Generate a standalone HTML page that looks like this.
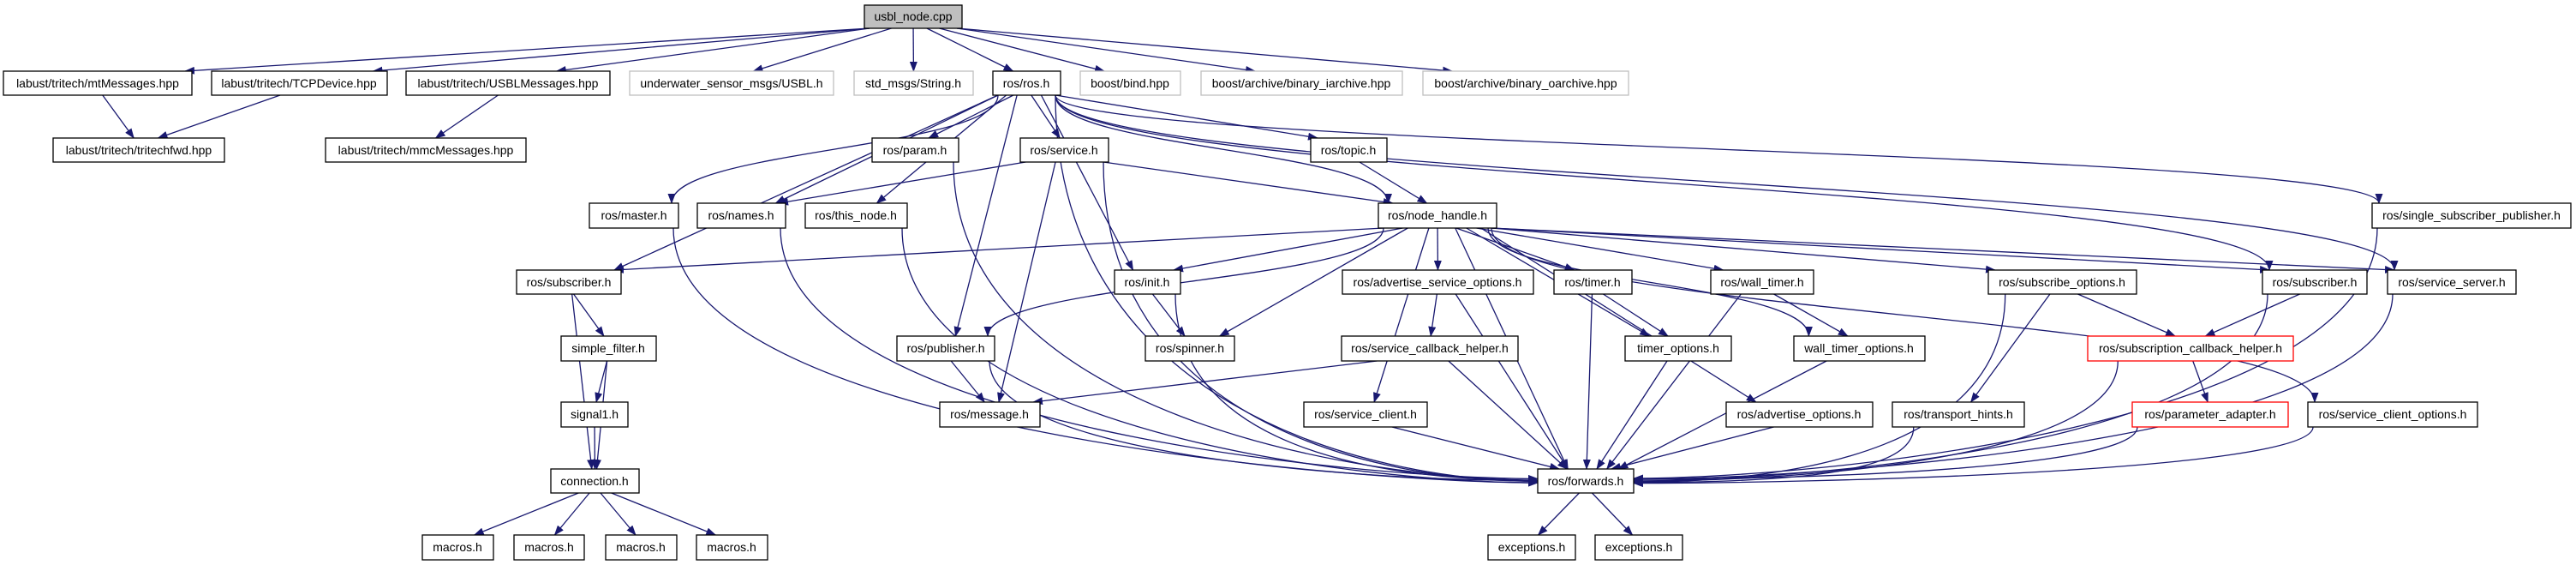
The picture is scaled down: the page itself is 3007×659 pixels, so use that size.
<!DOCTYPE html>
<html><head><meta charset="utf-8"><style>
html,body{margin:0;padding:0;background:#fff;}
svg{display:block;}
text{font-family:"Liberation Sans",sans-serif;font-size:14px;fill:#000;}
</style></head><body>
<svg id="g" width="3007" height="659" viewBox="0 0 3007 659" xmlns="http://www.w3.org/2000/svg">
<defs><marker id="ar" markerUnits="userSpaceOnUse" markerWidth="12" markerHeight="9" refX="11" refY="4.5" orient="auto"><path d="M0,0 L12,4.5 L0,9 z" fill="#191970"/></marker></defs>
<g id="edges" fill="none" stroke="#191970" stroke-width="1.3"></g>
<g id="nodes" stroke-width="1.3">
<rect x="1009" y="6" width="114" height="27" fill="#bfbfbf" stroke="#000"/><text x="1066" y="24" text-anchor="middle">usbl_node.cpp</text>
<rect x="4" y="83" width="220" height="28" fill="#fff" stroke="#000"/><text x="114" y="102" text-anchor="middle">labust/tritech/mtMessages.hpp</text>
<rect x="247" y="83" width="205" height="28" fill="#fff" stroke="#000"/><text x="349" y="102" text-anchor="middle">labust/tritech/TCPDevice.hpp</text>
<rect x="474" y="83" width="238" height="28" fill="#fff" stroke="#000"/><text x="593" y="102" text-anchor="middle">labust/tritech/USBLMessages.hpp</text>
<rect x="735" y="83" width="238" height="28" fill="#fff" stroke="#bfbfbf"/><text x="854" y="102" text-anchor="middle">underwater_sensor_msgs/USBL.h</text>
<rect x="997" y="83" width="139" height="28" fill="#fff" stroke="#bfbfbf"/><text x="1066" y="102" text-anchor="middle">std_msgs/String.h</text>
<rect x="1159" y="83" width="79" height="28" fill="#fff" stroke="#000"/><text x="1198" y="102" text-anchor="middle">ros/ros.h</text>
<rect x="1261" y="83" width="117" height="28" fill="#fff" stroke="#bfbfbf"/><text x="1319" y="102" text-anchor="middle">boost/bind.hpp</text>
<rect x="1402" y="83" width="235" height="28" fill="#fff" stroke="#bfbfbf"/><text x="1519" y="102" text-anchor="middle">boost/archive/binary_iarchive.hpp</text>
<rect x="1661" y="83" width="240" height="28" fill="#fff" stroke="#bfbfbf"/><text x="1781" y="102" text-anchor="middle">boost/archive/binary_oarchive.hpp</text>
<rect x="62" y="161" width="200" height="28" fill="#fff" stroke="#000"/><text x="162" y="180" text-anchor="middle">labust/tritech/tritechfwd.hpp</text>
<rect x="380" y="161" width="234" height="28" fill="#fff" stroke="#000"/><text x="497" y="180" text-anchor="middle">labust/tritech/mmcMessages.hpp</text>
<rect x="1018" y="161" width="101" height="28" fill="#fff" stroke="#000"/><text x="1068" y="180" text-anchor="middle">ros/param.h</text>
<rect x="1191" y="161" width="103" height="28" fill="#fff" stroke="#000"/><text x="1242" y="180" text-anchor="middle">ros/service.h</text>
<rect x="1530" y="161" width="89" height="28" fill="#fff" stroke="#000"/><text x="1574" y="180" text-anchor="middle">ros/topic.h</text>
<rect x="688" y="237" width="104" height="29" fill="#fff" stroke="#000"/><text x="740" y="256" text-anchor="middle">ros/master.h</text>
<rect x="814" y="237" width="103" height="29" fill="#fff" stroke="#000"/><text x="865" y="256" text-anchor="middle">ros/names.h</text>
<rect x="940" y="237" width="119" height="29" fill="#fff" stroke="#000"/><text x="999" y="256" text-anchor="middle">ros/this_node.h</text>
<rect x="1609" y="237" width="138" height="29" fill="#fff" stroke="#000"/><text x="1678" y="256" text-anchor="middle">ros/node_handle.h</text>
<rect x="2769" y="237" width="232" height="29" fill="#fff" stroke="#000"/><text x="2885" y="256" text-anchor="middle">ros/single_subscriber_publisher.h</text>
<rect x="603" y="315" width="122" height="28" fill="#fff" stroke="#000"/><text x="664" y="334" text-anchor="middle">ros/subscriber.h</text>
<rect x="1301" y="315" width="77" height="28" fill="#fff" stroke="#000"/><text x="1339" y="334" text-anchor="middle">ros/init.h</text>
<rect x="1567" y="315" width="223" height="28" fill="#fff" stroke="#000"/><text x="1678" y="334" text-anchor="middle">ros/advertise_service_options.h</text>
<rect x="1814" y="315" width="91" height="28" fill="#fff" stroke="#000"/><text x="1859" y="334" text-anchor="middle">ros/timer.h</text>
<rect x="1997" y="315" width="120" height="28" fill="#fff" stroke="#000"/><text x="2057" y="334" text-anchor="middle">ros/wall_timer.h</text>
<rect x="2321" y="315" width="173" height="28" fill="#fff" stroke="#000"/><text x="2407" y="334" text-anchor="middle">ros/subscribe_options.h</text>
<rect x="2641" y="315" width="122" height="28" fill="#fff" stroke="#000"/><text x="2702" y="334" text-anchor="middle">ros/subscriber.h</text>
<rect x="2787" y="315" width="150" height="28" fill="#fff" stroke="#000"/><text x="2862" y="334" text-anchor="middle">ros/service_server.h</text>
<rect x="655" y="392" width="111" height="29" fill="#fff" stroke="#000"/><text x="710" y="411" text-anchor="middle">simple_filter.h</text>
<rect x="1047" y="392" width="114" height="29" fill="#fff" stroke="#000"/><text x="1104" y="411" text-anchor="middle">ros/publisher.h</text>
<rect x="1337" y="392" width="104" height="29" fill="#fff" stroke="#000"/><text x="1389" y="411" text-anchor="middle">ros/spinner.h</text>
<rect x="1566" y="392" width="206" height="29" fill="#fff" stroke="#000"/><text x="1669" y="411" text-anchor="middle">ros/service_callback_helper.h</text>
<rect x="1897" y="392" width="124" height="29" fill="#fff" stroke="#000"/><text x="1959" y="411" text-anchor="middle">timer_options.h</text>
<rect x="2094" y="392" width="153" height="29" fill="#fff" stroke="#000"/><text x="2170" y="411" text-anchor="middle">wall_timer_options.h</text>
<rect x="2437" y="392" width="240" height="29" fill="#fff" stroke="#f00"/><text x="2557" y="411" text-anchor="middle">ros/subscription_callback_helper.h</text>
<rect x="655" y="469" width="78" height="29" fill="#fff" stroke="#000"/><text x="694" y="488" text-anchor="middle">signal1.h</text>
<rect x="1097" y="469" width="117" height="29" fill="#fff" stroke="#000"/><text x="1155" y="488" text-anchor="middle">ros/message.h</text>
<rect x="1522" y="469" width="144" height="29" fill="#fff" stroke="#000"/><text x="1594" y="488" text-anchor="middle">ros/service_client.h</text>
<rect x="2015" y="469" width="171" height="29" fill="#fff" stroke="#000"/><text x="2100" y="488" text-anchor="middle">ros/advertise_options.h</text>
<rect x="2209" y="469" width="154" height="29" fill="#fff" stroke="#000"/><text x="2286" y="488" text-anchor="middle">ros/transport_hints.h</text>
<rect x="2489" y="469" width="182" height="29" fill="#fff" stroke="#f00"/><text x="2580" y="488" text-anchor="middle">ros/parameter_adapter.h</text>
<rect x="2694" y="469" width="198" height="29" fill="#fff" stroke="#000"/><text x="2793" y="488" text-anchor="middle">ros/service_client_options.h</text>
<rect x="643" y="547" width="103" height="28" fill="#fff" stroke="#000"/><text x="694" y="566" text-anchor="middle">connection.h</text>
<rect x="1795" y="547" width="112" height="28" fill="#fff" stroke="#000"/><text x="1851" y="566" text-anchor="middle">ros/forwards.h</text>
<rect x="493" y="624" width="83" height="29" fill="#fff" stroke="#000"/><text x="534" y="643" text-anchor="middle">macros.h</text>
<rect x="600" y="624" width="82" height="29" fill="#fff" stroke="#000"/><text x="641" y="643" text-anchor="middle">macros.h</text>
<rect x="707" y="624" width="83" height="29" fill="#fff" stroke="#000"/><text x="748" y="643" text-anchor="middle">macros.h</text>
<rect x="813" y="624" width="83" height="29" fill="#fff" stroke="#000"/><text x="854" y="643" text-anchor="middle">macros.h</text>
<rect x="1737" y="624" width="102" height="29" fill="#fff" stroke="#000"/><text x="1788" y="643" text-anchor="middle">exceptions.h</text>
<rect x="1862" y="624" width="102" height="29" fill="#fff" stroke="#000"/><text x="1913" y="643" text-anchor="middle">exceptions.h</text>
</g>
</svg>
<script>
var R=[6,83,161,237,315,392,469,547,624],H=[27,28,28,29,28,29,29,28,29];
var N={usbl:[1009,1123,0],mt:[4,224,1],tcp:[247,452,1],usblm:[474,712,1],uw:[735,973,1],str:[997,1136,1],ros:[1159,1238,1],bind:[1261,1378,1],ia:[1402,1637,1],oa:[1661,1901,1],
tfwd:[62,262,2],mmc:[380,614,2],param:[1018,1119,2],service:[1191,1294,2],topic:[1530,1619,2],
master:[688,792,3],names:[814,917,3],thisn:[940,1059,3],nh:[1609,1747,3],ssp:[2769,3001,3],
sub1:[603,725,4],init:[1301,1378,4],aso:[1567,1790,4],timer:[1814,1905,4],wtimer:[1997,2117,4],subopt:[2321,2494,4],sub2:[2641,2763,4],sserv:[2787,2937,4],
sf:[655,766,5],pub:[1047,1161,5],spin:[1337,1441,5],sch:[1566,1772,5],topt:[1897,2021,5],wto:[2094,2247,5],subcb:[2437,2677,5],
sig:[655,733,6],msg:[1097,1214,6],scl:[1522,1666,6],ao:[2015,2186,6],th:[2209,2363,6],pa:[2489,2671,6],sco:[2694,2892,6],
conn:[643,746,7],fw:[1795,1907,7],m1:[493,576,8],m2:[600,682,8],m3:[707,790,8],m4:[813,896,8],ex1:[1737,1839,8],ex2:[1862,1964,8]};
var E="usbl mt,usbl tcp,usbl usblm,usbl uw,usbl str,usbl ros,usbl bind,usbl ia,usbl oa,mt tfwd,tcp tfwd,usblm mmc,"+
"ros sub1,ros master,ros names,ros thisn,ros param,ros service,ros pub,ros init,ros nh,ros topic,ros sub2,ros sserv,ros ssp,ros fw,"+
"service names,service msg,service fw,service nh,param fw,topic nh,master fw,names fw,thisn fw,"+
"nh sub1,nh init,nh pub,nh spin,nh aso,nh timer,nh topt,nh wtimer,nh wto,nh subopt,nh sub2,nh sserv,nh sco,nh ao,nh scl,nh fw,"+
"init spin,init fw,aso sch,aso fw,timer topt,timer fw,wtimer wto,wtimer fw,subopt th,subopt subcb,subopt fw,sub2 subcb,sub2 fw,sserv fw,ssp fw,"+
"sub1 sf,sub1 conn,sf sig,sf conn,sig conn,conn m1,conn m2,conn m3,conn m4,pub msg,pub fw,sch msg,sch fw,scl fw,ao fw,th fw,pa fw,sco fw,subcb pa,subcb fw,topt fw,wto fw,fw ex1,fw ex2";
var g=document.getElementById('edges'),s='';
E.split(',').forEach(function(e){var p=e.split(' '),a=N[p[0]],b=N[p[1]];
 var acx=(a[0]+a[1])/2,bcx=(b[0]+b[1])/2,sy=R[a[2]]+H[a[2]],ty=R[b[2]];
 var sx=Math.max(a[0]+6,Math.min(a[1]-6,acx+(bcx-acx)*0.12));
 var tx=Math.max(b[0]+8,Math.min(b[1]-8,bcx+(acx-bcx)*0.12));
 var d;
 if(p[1]=='fw'&&Math.abs(sx-bcx)>300){var side=sx<bcx?b[0]:b[1];var yy=R[7]+14+(Math.random()*6-3);
  d='M'+sx+','+sy+' C'+sx+','+(sy+(yy-sy)*0.8)+' '+(side+(sx<bcx?-200:200))+','+yy+' '+side+','+yy;}
 else if(b[2]==a[2]){ // same rank (ros->ssp style not used)
  d='M'+sx+','+sy+' L'+tx+','+ty;}
 else{var dy=ty-sy;
  if(Math.abs(tx-sx)<2.5*dy||b[2]-a[2]==1) d='M'+sx+','+sy+' L'+tx+','+ty;
  else d='M'+sx+','+sy+' C'+sx+','+(sy+dy*0.5)+' '+tx+','+(ty-dy*0.5)+' '+tx+','+ty;}
 s+='<path d="'+d+'" marker-end="url(#ar)"/>';});
g.innerHTML=s;
</script>
</body></html>
